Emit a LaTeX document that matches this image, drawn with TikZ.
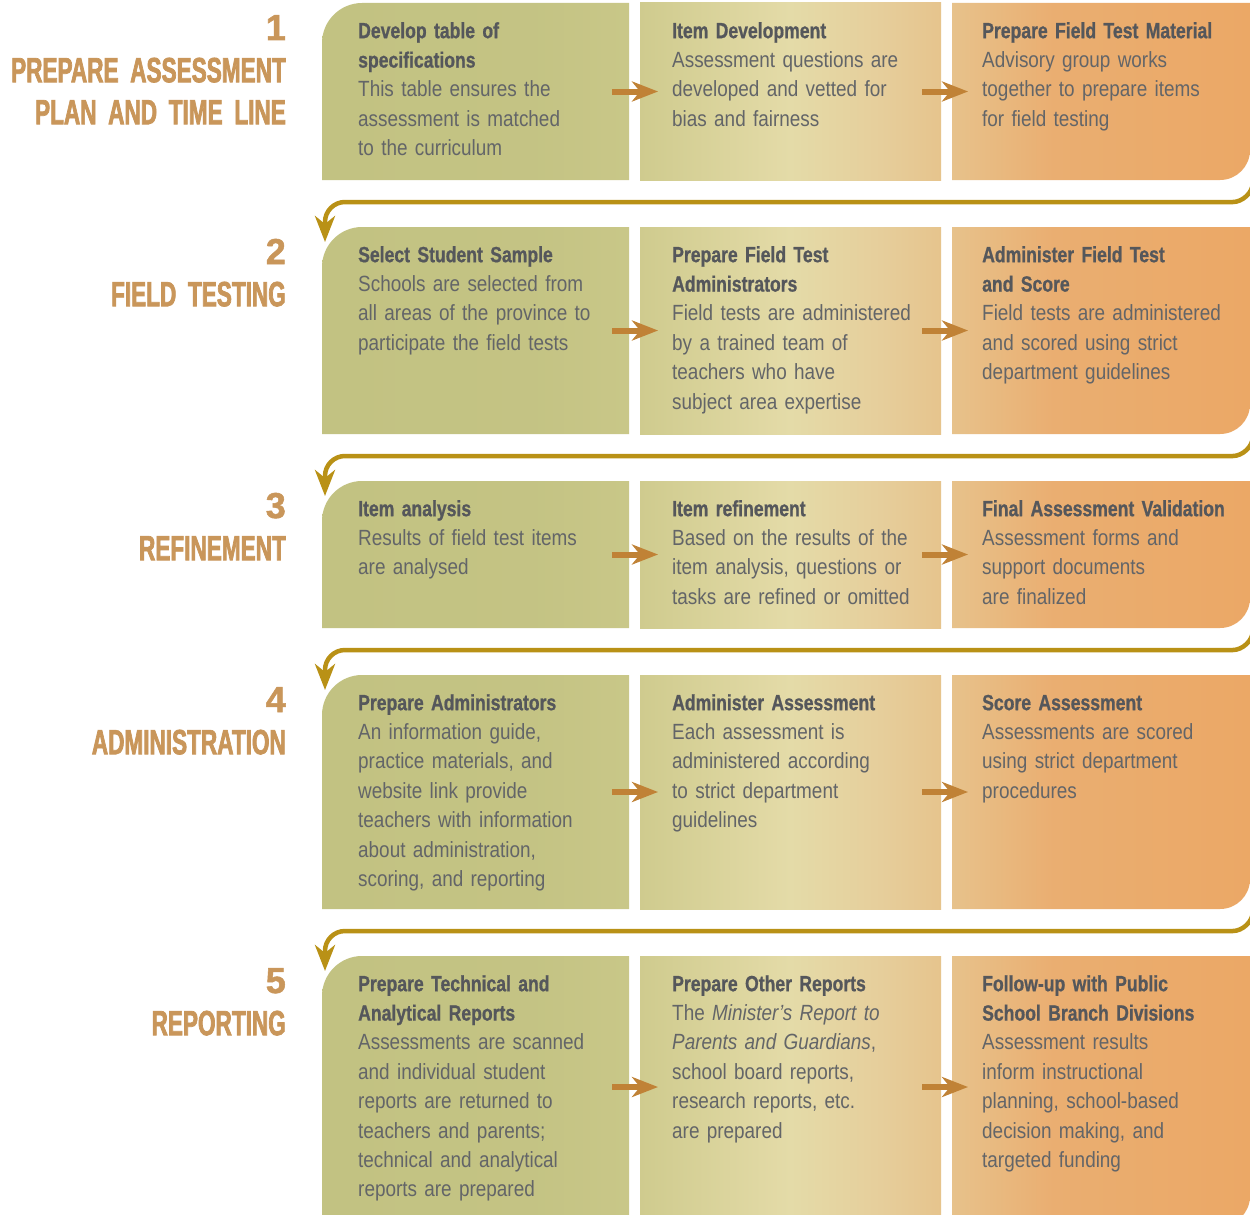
\documentclass[tikz,border=0pt]{standalone}
\usepackage{fontspec}
\setmainfont{Liberation Sans}
\newfontfamily\bodyf[FakeStretch=0.86]{Liberation Sans}
\newfontfamily\titlef[FakeStretch=0.80,FakeBold=0.8]{Liberation Sans Bold}
\newfontfamily\headf[FakeStretch=0.645,FakeBold=2]{Liberation Sans Bold}
\newfontfamily\numf[FakeBold=1.5]{Liberation Sans Bold}
\usetikzlibrary{arrows.meta}
\definecolor{headc}{HTML}{C9965A}
\definecolor{titlec}{HTML}{55575B}
\definecolor{bodyc}{HTML}{636568}
\definecolor{arrowc}{HTML}{C08236}
\definecolor{connc}{HTML}{B99116}
\definecolor{gA}{HTML}{C2C282}
\definecolor{gB}{HTML}{C9C788}
\definecolor{gC}{HTML}{CFCB8E}
\definecolor{gD}{HTML}{E4DBA8}
\definecolor{gDD}{HTML}{E6CE9B}
\definecolor{gE}{HTML}{E6C48D}
\definecolor{gF}{HTML}{E7C28B}
\definecolor{gG}{HTML}{EAAE71}
\definecolor{gH}{HTML}{EBA866}
\pgfdeclarehorizontalshading{colone}{100bp}{color(0bp)=(gA); color(25bp)=(gA); color(60bp)=(gA!70!gB); color(75bp)=(gB); color(100bp)=(gB)}
\pgfdeclarehorizontalshading{coltwo}{100bp}{color(0bp)=(gC); color(25bp)=(gC); color(50bp)=(gD); color(65bp)=(gDD); color(75bp)=(gE); color(100bp)=(gE)}
\pgfdeclarehorizontalshading{colthree}{100bp}{color(0bp)=(gF); color(25bp)=(gF); color(42bp)=(gG); color(75bp)=(gH); color(100bp)=(gH)}
\newcommand{\ttl}[1]{{\titlef\color{titlec}#1}}
\begin{document}
\begin{tikzpicture}[x=1pt,y=-1pt,
  boxtext/.style={anchor=north west, inner sep=0pt, text width=320pt, align=left,
    font=\fontsize{22}{29.4}\selectfont\bodyf, text=bodyc},
  headtext/.style={anchor=north east, inner sep=0pt, text width=330pt, align=right,
    font=\fontsize{35}{42}\selectfont\headf, text=headc},
  numtext/.style={anchor=base east, inner sep=0pt,
    font=\fontsize{36}{40}\selectfont\numf, text=headc},
  flow/.style={line width=6pt, draw=arrowc, -{Stealth[length=26pt,width=20pt,inset=8pt]}},
  conn/.style={line width=4.5pt, draw=connc, -{Stealth[length=26pt,width=20pt,inset=8pt]}}
]
\useasboundingbox (0,0) rectangle (1250,1215);
\clip (0,0) rectangle (1250,1215);
\fill[white] (0,0) rectangle (1250,1215);

% boxes
\foreach \T/\B in {3/180,227/434,481/628,675/909,956/1226}{
  \shade[shading=colone] (322,\B) -- (322,\T+40) .. controls (322,\T+18) and (340,\T) .. (362,\T) -- (629,\T) -- (629,\B) -- cycle;
  \shade[shading=coltwo] (640,\T) rectangle (941,\B);
  \shade[shading=colthree] (952,\T) -- (1250,\T) -- (1250,\B-30) .. controls (1250,\B-13.4) and (1236.6,\B) .. (1220,\B) -- (952,\B) -- cycle;
}

% flow arrows
\foreach \n/\Y in {1/91.5,2/330.5,3/554.5,4/792,5/1087}{
  \coordinate (fa\n) at (612,\Y);
  \coordinate (fb\n) at (658,\Y);
  \coordinate (fc\n) at (922,\Y);
  \coordinate (fd\n) at (968,\Y);
  \draw[flow] (fa\n) -- (fb\n);
  \draw[flow] (fc\n) -- (fd\n);
}

% connectors between rows
\foreach \n/\Y/\E in {1/202/242,2/456/496,3/650/690,4/931/971}{
  \coordinate (cs\n) at (1253,\Y-50);
  \coordinate (ce\n) at (325,\E);
  \draw[conn] (cs\n) -- (1253,\Y-20) .. controls (1253,\Y-9) and (1242,\Y) .. (1233,\Y)
    -- (345,\Y) .. controls (334,\Y) and (325,\Y+9) .. (325,\Y+20) -- (ce\n);
}

% headings
\node[numtext] (n1) at (286,40) {1};
\node[headtext] (h1) at (286,52.6) {\noindent\strut PREPARE ASSESSMENT\\PLAN AND TIME LINE};
\node[numtext] (n2) at (286,264) {2};
\node[headtext] (h2) at (286,276.6) {\noindent\strut FIELD TESTING};
\node[numtext] (n3) at (286,518) {3};
\node[headtext] (h3) at (286,530.6) {\noindent\strut REFINEMENT};
\node[numtext] (n4) at (286,712) {4};
\node[headtext] (h4) at (286,724.6) {\noindent\strut ADMINISTRATION};
\node[numtext] (n5) at (286,993) {5};
\node[headtext] (h5) at (286,1005.6) {\noindent\strut REPORTING};

% row 1
\node[boxtext] (t11) at (358,17.4) {\noindent\strut\ttl{Develop table of\\specifications}\\This table ensures the\\assessment is matched\\to the curriculum};
\node[boxtext] (t12) at (672,17.4) {\noindent\strut\ttl{Item Development}\\Assessment questions are\\developed and vetted for\\bias and fairness};
\node[boxtext] (t13) at (982,17.4) {\noindent\strut\ttl{Prepare Field Test Material}\\Advisory group works\\together to prepare items\\for field testing};
% row 2
\node[boxtext] (t21) at (358,241.4) {\noindent\strut\ttl{Select Student Sample}\\Schools are selected from\\all areas of the province to\\participate the field tests};
\node[boxtext] (t22) at (672,241.4) {\noindent\strut\ttl{Prepare Field Test\\Administrators}\\Field tests are administered\\by a trained team of\\teachers who have\\subject area expertise};
\node[boxtext] (t23) at (982,241.4) {\noindent\strut\ttl{Administer Field Test\\and Score}\\Field tests are administered\\and scored using strict\\department guidelines};
% row 3
\node[boxtext] (t31) at (358,495.4) {\noindent\strut\ttl{Item analysis}\\Results of field test items\\are analysed};
\node[boxtext] (t32) at (672,495.4) {\noindent\strut\ttl{Item refinement}\\Based on the results of the\\item analysis, questions or\\tasks are refined or omitted};
\node[boxtext] (t33) at (982,495.4) {\noindent\strut\ttl{Final Assessment Validation}\\Assessment forms and\\support documents\\are finalized};
% row 4
\node[boxtext] (t41) at (358,689.4) {\noindent\strut\ttl{Prepare Administrators}\\An information guide,\\practice materials, and\\website link provide\\teachers with information\\about administration,\\scoring, and reporting};
\node[boxtext] (t42) at (672,689.4) {\noindent\strut\ttl{Administer Assessment}\\Each assessment is\\administered according\\to strict department\\guidelines};
\node[boxtext] (t43) at (982,689.4) {\noindent\strut\ttl{Score Assessment}\\Assessments are scored\\using strict department\\procedures};
% row 5
\node[boxtext] (t51) at (358,970.4) {\noindent\strut\ttl{Prepare Technical and\\Analytical Reports}\\Assessments are scanned\\and individual student\\reports are returned to\\teachers and parents;\\technical and analytical\\reports are prepared};
\node[boxtext] (t52) at (672,970.4) {\noindent\strut\ttl{Prepare Other Reports}\\The \textit{Minister’s Report to}\\\textit{Parents and Guardians}, \\school board reports,\\research reports, etc.\\are prepared};
\node[boxtext] (t53) at (982,970.4) {\noindent\strut\ttl{Follow-up with Public\\School Branch Divisions}\\Assessment results\\inform instructional\\planning, school-based\\decision making, and\\targeted funding};
\end{tikzpicture}
\end{document}
